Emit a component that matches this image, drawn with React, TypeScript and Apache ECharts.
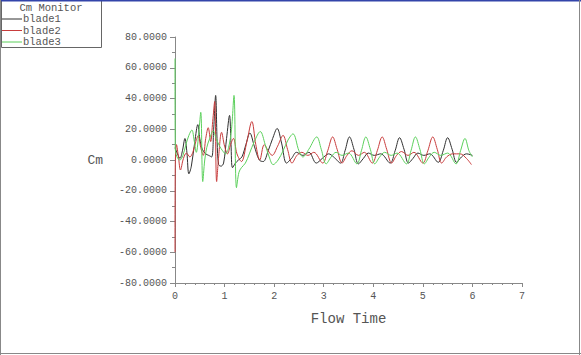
import React, { useEffect, useRef } from "react";
import * as echarts from "echarts";

const seriesNames = ["blade1", "blade2", "blade3"];
const seriesColors = ["#303030", "#c83c3c", "#5cd05c"];

const yTicks = [-80, -60, -40, -20, 0, 20, 40, 60, 80];
const xTicks = [0, 1, 2, 3, 4, 5, 6, 7];

const blade1: [number, number][] = [
  [0, 8], [0.05, 4], [0.1, 1], [0.15, 6], [0.2, 14], [0.24, 5], [0.28, -9], [0.33, -4], [0.4, 12], [0.46, 23],
  [0.5, 14], [0.55, 7], [0.62, 4], [0.68, 3], [0.74, 2], [0.78, 20], [0.82, 42], [0.85, 12], [0.88, -3], [0.93, -4],
  [0.98, -2], [1.04, 14], [1.1, 29], [1.13, 10], [1.16, -5], [1.22, -2], [1.28, 0], [1.35, 2], [1.43, 10], [1.51, 17.5],
  [1.6, 9], [1.7, 0], [1.78, -1], [1.88, 6], [1.97, 14], [2.06, 20.5], [2.15, 11], [2.25, -2], [2.35, 1], [2.45, 5],
  [2.58, 3], [2.7, 5], [2.85, -2], [2.97, 1], [3.1, 4], [3.2, 2], [3.34, -2], [3.43, 6], [3.52, 15], [3.61, 7],
  [3.7, -2.5], [3.8, 1], [3.9, 4.5], [4.02, 3], [4.15, 4], [4.34, -2], [4.44, 6], [4.53, 14.5], [4.62, 7], [4.71, -2],
  [4.8, 1], [4.9, 4.5], [5.02, 3], [5.14, 4], [5.31, -1.5], [5.41, 6], [5.5, 14.5], [5.59, 7], [5.68, -1.5], [5.78, 2],
  [5.88, 4], [6.0, 3],
];

const blade2: [number, number][] = [
  [0, -60], [0.005, -5], [0.03, 10], [0.07, 2], [0.11, -6.5], [0.17, 1], [0.23, 4.5], [0.3, 2], [0.36, 5], [0.42, 12],
  [0.47, 16], [0.52, 8], [0.57, 3], [0.62, 14], [0.67, 21], [0.72, 12], [0.76, 25], [0.8, 38], [0.84, -14], [0.88, 2],
  [0.94, 18], [1.0, 9], [1.06, 4], [1.12, 10], [1.18, 14], [1.25, 4], [1.34, -1], [1.45, 12], [1.55, 25], [1.63, 10],
  [1.71, 0], [1.8, 10], [1.88, 6], [1.96, 3], [2.07, 9], [2.18, 16], [2.27, 7], [2.36, -2], [2.46, 3], [2.56, 5],
  [2.68, 3], [2.8, 5], [2.98, -2], [3.08, 6], [3.18, 15], [3.27, 7], [3.37, -2], [3.47, 3], [3.57, 6], [3.7, 3],
  [3.82, 5], [3.98, -2], [4.08, 6], [4.18, 15], [4.27, 7], [4.37, -2], [4.47, 3], [4.57, 5.5], [4.7, 3], [4.82, 5],
  [5.0, -2], [5.1, 6], [5.2, 15], [5.29, 7], [5.38, -2], [5.48, 2], [5.6, 4], [5.75, 4], [5.88, 1], [5.98, -3],
];

const blade3: [number, number][] = [
  [0, 66], [0.005, 8], [0.04, 2], [0.1, 0], [0.16, 3], [0.22, 10], [0.28, 16], [0.34, 19.5], [0.39, 12], [0.43, 5],
  [0.48, 18], [0.52, 31], [0.56, -14], [0.6, 0], [0.64, 8], [0.7, 14], [0.77, 19], [0.83, 14], [0.9, 9], [0.96, 6],
  [1.02, 4], [1.08, 8], [1.14, 20], [1.19, 42], [1.24, -18], [1.29, -8], [1.34, -5], [1.42, -2], [1.5, 4], [1.6, 12],
  [1.72, 18.5], [1.82, 10], [1.9, 2], [1.98, -3], [2.08, 0], [2.18, 6], [2.28, 13], [2.38, 17], [2.5, 6], [2.58, 2],
  [2.7, 7], [2.86, 15], [2.95, 7], [3.05, -2.5], [3.15, 2], [3.25, 5], [3.37, 3], [3.5, 4.5], [3.67, -2.5], [3.76, 6],
  [3.85, 15], [3.94, 7], [4.03, -2.5], [4.13, 2], [4.23, 5], [4.36, 3], [4.48, 4.5], [4.67, -2.5], [4.76, 6], [4.85, 15],
  [4.94, 7], [5.03, -2.5], [5.13, 2], [5.23, 5], [5.36, 3], [5.5, 4.5], [5.67, -2.5], [5.76, 6], [5.85, 14], [5.93, 6],
  [6.0, 2],
];

const seriesData = [blade1, blade2, blade3];

export default function App() {
  const ref = useRef<HTMLDivElement>(null);
  useEffect(() => {
    document.body.style.margin = "0";
    if (!ref.current) return;
    const chart = echarts.init(ref.current, undefined, { renderer: "svg" });
    const font = "'Liberation Mono', 'DejaVu Sans Mono', monospace";
    const textColor = "#555555";
    const legendGraphics: any[] = [];
    seriesNames.forEach((n, i) => {
      const y = 19 + i * 11.5;
      legendGraphics.push({
        type: "line",
        shape: { x1: 2, y1: y, x2: 22, y2: y },
        style: { stroke: seriesColors[i], lineWidth: 1 },
      });
      legendGraphics.push({
        type: "text",
        x: 23,
        y: y,
        style: { text: n, font: `10.5px ${font}`, fill: textColor, textVerticalAlign: "middle" },
      });
    });
    chart.setOption({
      animation: false,
      backgroundColor: "#ffffff",
      grid: { left: 175, right: 59, top: 37, bottom: 72 },
      xAxis: {
        type: "value",
        min: xTicks[0],
        max: xTicks[xTicks.length - 1],
        interval: 1,
        name: "Flow Time",
        nameLocation: "middle",
        nameGap: 29,
        nameTextStyle: { fontFamily: font, fontSize: 14, color: textColor },
        axisLine: { onZero: false, lineStyle: { color: "#888" } },
        axisTick: { show: true, length: 4, lineStyle: { color: "#888" } },
        minorTick: { show: true, splitNumber: 5, length: 2, lineStyle: { color: "#888" } },
        axisLabel: { fontFamily: font, fontSize: 10, color: textColor, margin: 8 },
        splitLine: { show: false },
      },
      yAxis: {
        type: "value",
        min: yTicks[0],
        max: yTicks[yTicks.length - 1],
        interval: 20,
        name: "Cm",
        nameLocation: "middle",
        nameGap: 72,
        nameRotate: 0,
        nameTextStyle: { fontFamily: font, fontSize: 13, color: textColor },
        axisLine: { show: true, lineStyle: { color: "#888" } },
        axisTick: { show: true, length: 5, lineStyle: { color: "#888" } },
        minorTick: { show: true, splitNumber: 2, length: 3, lineStyle: { color: "#888" } },
        axisLabel: {
          fontFamily: font,
          fontSize: 10,
          color: textColor,
          margin: 8,
          formatter: (v: number) => v.toFixed(4),
        },
        splitLine: { show: false },
      },
      series: seriesNames.map((n, i) => ({
        name: n,
        type: "line",
        data: seriesData[i],
        symbol: "none",
        smooth: 0.35,
        lineStyle: { color: seriesColors[i], width: 1 },
      })),
      graphic: [
        {
          type: "rect",
          shape: { x: 1.5, y: 0.5, width: 100, height: 47 },
          style: { fill: "none", stroke: "#666", lineWidth: 1 },
        },
        {
          type: "text",
          x: 51,
          y: 7.5,
          style: { text: "Cm Monitor", font: `10.5px ${font}`, fill: textColor, textAlign: "center", textVerticalAlign: "middle" },
        },
        ...legendGraphics,
        { type: "line", shape: { x1: 0, y1: 0.5, x2: 581, y2: 0.5 }, style: { stroke: "#3344aa", lineWidth: 2 } },
        { type: "line", shape: { x1: 0.5, y1: 0, x2: 0.5, y2: 355 }, style: { stroke: "#888", lineWidth: 1 } },
        { type: "line", shape: { x1: 579.5, y1: 0, x2: 579.5, y2: 355 }, style: { stroke: "#888", lineWidth: 1 } },
        { type: "line", shape: { x1: 0, y1: 353.5, x2: 581, y2: 353.5 }, style: { stroke: "#888", lineWidth: 1 } },
      ],
    });
    return () => chart.dispose();
  }, []);
  return <div ref={ref} style={{ width: 581, height: 355 }} />;
}
